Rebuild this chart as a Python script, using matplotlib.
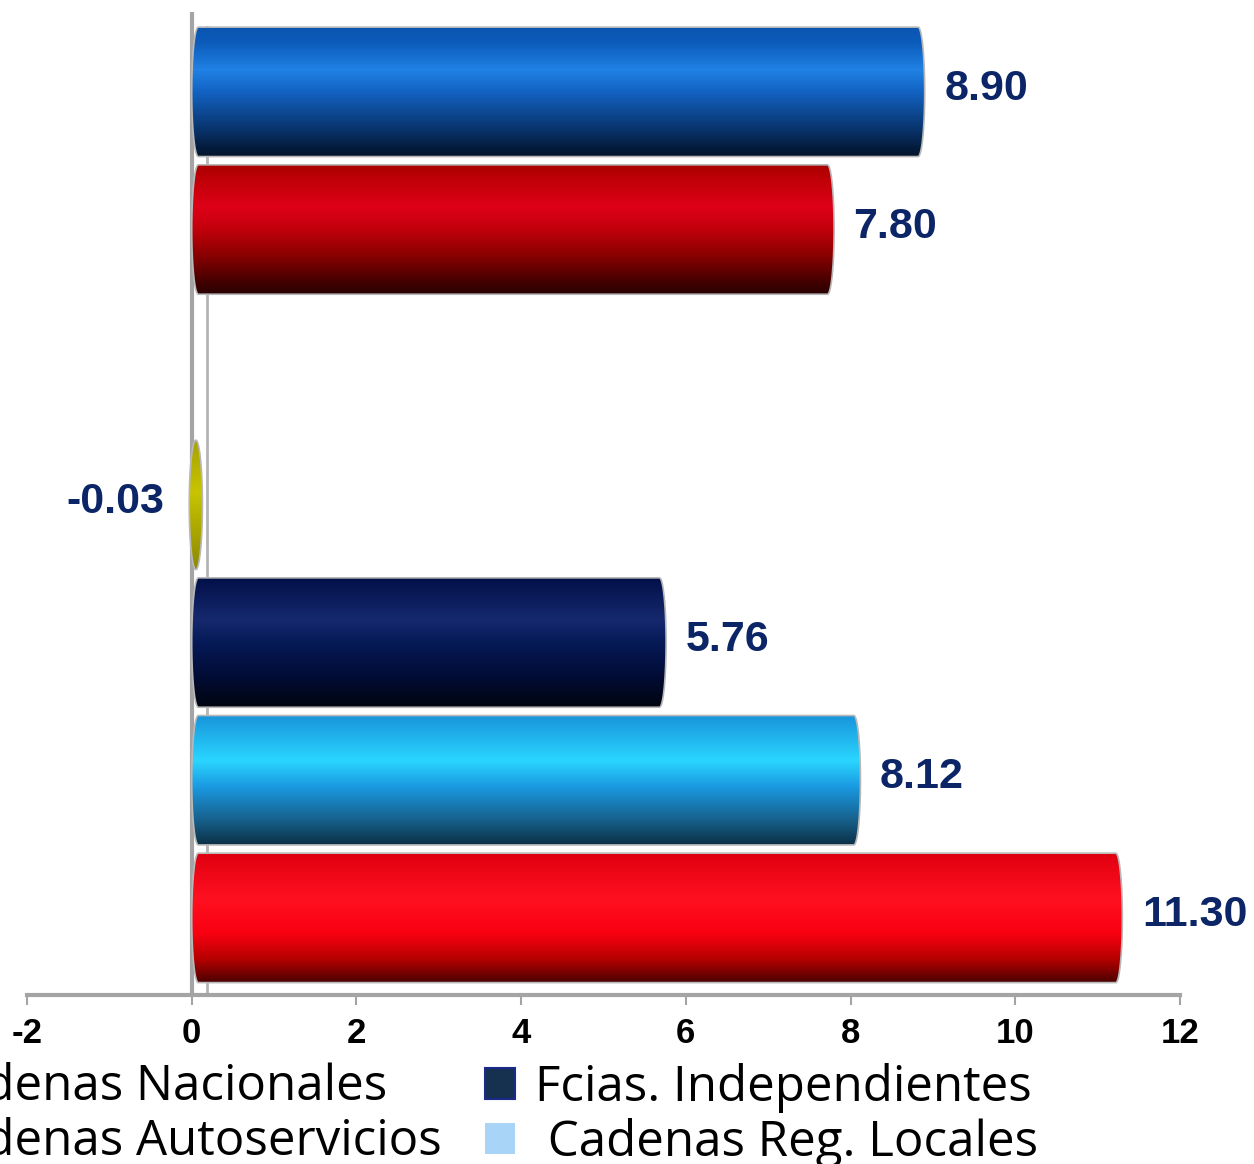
"""Horizontal cylinder-style bar chart with value labels."""

import numpy as np
import matplotlib.pyplot as plt
from matplotlib.colors import LinearSegmentedColormap
from matplotlib.patches import PathPatch, Patch
from matplotlib.path import Path

# data, top to bottom (None = empty slot)
bar_values = [8.90, 7.80, None, -0.03, 5.76, 8.12, 11.30]
value_labels = ["8.90", "7.80", "", "-0.03", "5.76", "8.12", "11.30"]
x_ticks = [-2, 0, 2, 4, 6, 8, 10, 12]
legend_left = ["Cadenas Nacionales", "Cadenas Autoservicios"]
legend_right = ["Fcias. Independientes", " Cadenas Reg. Locales"]

# vertical shading stops for each bar (fraction from the top, colour)
bar_shades = [
    [(0, "#0a55b0"), (0.12, "#0c5cbc"), (0.33, "#2082e4"), (0.5, "#1262c2"),
     (0.75, "#0a3a78"), (0.93, "#041c3c"), (1, "#03152c")],
    [(0, "#a80000"), (0.12, "#c00008"), (0.33, "#de0018"), (0.5, "#c2000c"),
     (0.7, "#8a0000"), (0.93, "#3c0000"), (1, "#2a0000")],
    [(0, "#ffffff"), (1, "#ffffff")],
    [(0, "#a6a200"), (0.4, "#c8c400"), (1, "#8c8800")],
    [(0, "#020f48"), (0.33, "#16296f"), (0.5, "#061a58"), (0.75, "#020d38"),
     (1, "#00050f")],
    [(0, "#1894dc"), (0.35, "#2ad6ff"), (0.55, "#1a9ae2"), (0.8, "#17628e"),
     (1, "#0b3046")],
    [(0, "#e00010"), (0.35, "#ff1020"), (0.62, "#f80010"), (0.82, "#b40000"),
     (1, "#480000")],
]
legend_left_colors = ["#1f6fd0", "#d00010"]
legend_right_colors = ["#163050", "#a8d4f8"]

label_color = "#0b2566"
axis_grey = "#a4a4a4"
bar_height = 0.94
cap_rx = 0.08

plt.rcParams["font.family"] = ["Liberation Sans", "DejaVu Sans"]

fig = plt.figure(figsize=(12.54, 11.64), dpi=100)
ax = fig.add_axes([27 / 1254, 169 / 1164, 1153 / 1254, 983 / 1164])


def capsule_path(x_lo, x_hi, y_mid, height, rx):
    """Bar outline with elliptical ends, in data coordinates."""
    t = np.linspace(-np.pi / 2, np.pi / 2, 40)
    half = height / 2
    right = np.column_stack([x_hi - rx + rx * np.cos(t), y_mid + half * np.sin(t)])
    left = np.column_stack([x_lo + rx - rx * np.cos(t), y_mid - half * np.sin(t)])
    verts = np.vstack([right, left, right[:1]])
    codes = [Path.MOVETO] + [Path.LINETO] * (len(verts) - 2) + [Path.CLOSEPOLY]
    return Path(verts, codes)


# axis lines behind the bars
ax.axvline(0, color=axis_grey, lw=3, zorder=1)
ax.axvline(0.18, ymin=0, ymax=0.985, color="#b4b4b4", lw=2, zorder=1)

positions = np.arange(len(bar_values))
for pos, value, text, stops in zip(positions, bar_values, value_labels, bar_shades):
    if value is None:
        continue
    x_lo, x_hi = min(0, value), max(0, value)
    if x_hi - x_lo < 2 * cap_rx:
        x_hi = x_lo + 2 * cap_rx
    cmap = LinearSegmentedColormap.from_list("shade", stops)
    gradient = np.linspace(0, 1, 256).reshape(-1, 1)
    img = ax.imshow(
        gradient, cmap=cmap, aspect="auto", origin="upper", interpolation="bilinear",
        extent=(x_lo, x_hi, pos + bar_height / 2, pos - bar_height / 2), zorder=3,
    )
    outline = PathPatch(capsule_path(x_lo, x_hi, pos, bar_height, cap_rx),
                        transform=ax.transData, facecolor="none",
                        edgecolor="#b8b8b8", lw=1.2, zorder=4)
    ax.add_patch(outline)
    img.set_clip_path(outline)

    if value >= 0:
        ax.annotate(text, (x_hi, pos), xytext=(14, 2), textcoords="offset points",
                    ha="left", va="center", fontsize=31, fontweight="bold",
                    color=label_color)
    else:
        ax.annotate(text, (x_lo, pos), xytext=(-18, 2), textcoords="offset points",
                    ha="right", va="center", fontsize=31, fontweight="bold",
                    color=label_color)

ax.set_xlim(-2, 12)
ax.set_ylim(6.56, -0.58)
ax.set_xticks(x_ticks)
ax.set_xticklabels([str(t) for t in x_ticks],
                   family=["Liberation Sans Narrow", "Liberation Sans", "DejaVu Sans"],
                   fontweight="bold", fontsize=25)
ax.tick_params(axis="x", direction="out", length=7, width=1.5, color=axis_grey, pad=9)
ax.set_yticks([])
for side in ["left", "top", "right"]:
    ax.spines[side].set_visible(False)
ax.spines["bottom"].set_color(axis_grey)
ax.spines["bottom"].set_linewidth(3)
ax.patch.set_alpha(0)

legend_kw = dict(frameon=False, handlelength=0.6, handleheight=0.6,
                 handletextpad=0.42, labelspacing=0.1, borderpad=0, borderaxespad=0,
                 prop={"family": ["Open Sans", "Lato", "DejaVu Sans"], "size": 35.5})
left_handles = [Patch(facecolor=c) for c in legend_left_colors]
right_handles = [Patch(facecolor=legend_right_colors[0], edgecolor="#1a2a8a", lw=1.5),
                 Patch(facecolor=legend_right_colors[1])]
fig.legend(left_handles, legend_left, loc="upper right",
           bbox_to_anchor=(442 / 1254, 1 - 1063 / 1164), **legend_kw)
fig.legend(right_handles, legend_right, loc="upper left",
           bbox_to_anchor=(485 / 1254, 1 - 1063 / 1164), **legend_kw)

fig.savefig("out.png", dpi=100)
